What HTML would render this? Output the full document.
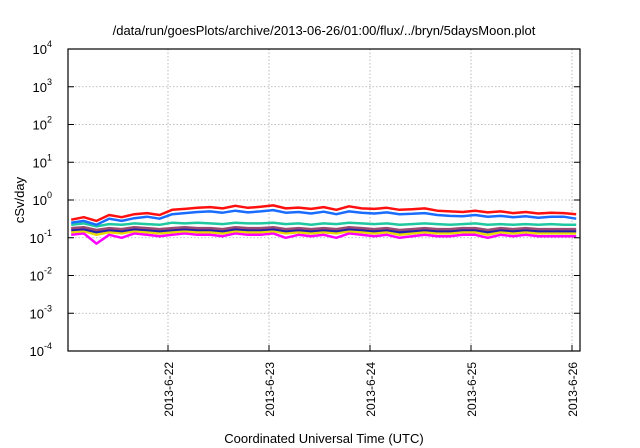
<!DOCTYPE html>
<html><head><meta charset="utf-8"><style>
html,body{margin:0;padding:0;background:#fff;}
svg{display:block;font-family:"Liberation Sans",sans-serif;}
</style></head><body>
<svg width="640" height="448" viewBox="0 0 640 448" id="chart">
<text x="324" y="35" text-anchor="middle" font-size="13" fill="#000">/data/run/goesPlots/archive/2013-06-26/01:00/flux/../bryn/5daysMoon.plot</text>
<g id="grid"></g>
<g id="series"></g>
<rect x="68" y="49" width="512" height="302" fill="none" stroke="#000" stroke-width="1.2"/>
<g id="axes"></g>
<text x="324" y="443" text-anchor="middle" font-size="13">Coordinated Universal Time (UTC)</text>
<text transform="translate(24,200) rotate(-90)" text-anchor="middle" font-size="13">cSv/day</text>
</svg>
<script>
const yExponents=[-4,-3,-2,-1,0,1,2,3,4];
const xTickLabels=["2013-6-22","2013-6-23","2013-6-24","2013-6-25","2013-6-26"];
const xTickDays=[1,2,3,4,5];
const hours=[1,4,7,10,13,16,19,22,25,28,31,34,37,40,43,46,49,52,55,58,61,64,67,70,73,76,79,82,85,88,91,94,97,100,103,106,109,112,115,118,121];
const red=[0.30,0.35,0.28,0.40,0.35,0.42,0.45,0.40,0.55,0.58,0.62,0.65,0.60,0.70,0.62,0.66,0.72,0.60,0.63,0.58,0.65,0.55,0.68,0.60,0.58,0.62,0.55,0.57,0.60,0.52,0.50,0.48,0.52,0.47,0.50,0.45,0.48,0.44,0.46,0.45,0.42];
const blue=[0.25,0.28,0.22,0.32,0.28,0.33,0.36,0.32,0.42,0.45,0.48,0.50,0.46,0.52,0.47,0.50,0.54,0.46,0.48,0.44,0.49,0.42,0.50,0.46,0.44,0.47,0.42,0.43,0.45,0.40,0.38,0.37,0.40,0.36,0.38,0.35,0.37,0.34,0.36,0.36,0.32];
const teal=[0.22,0.24,0.20,0.23,0.22,0.24,0.23,0.22,0.25,0.24,0.25,0.24,0.23,0.25,0.24,0.24,0.25,0.23,0.24,0.22,0.24,0.23,0.25,0.24,0.23,0.24,0.22,0.23,0.24,0.23,0.22,0.23,0.24,0.22,0.23,0.22,0.23,0.22,0.23,0.22,0.22];
const brown=[0.18,0.19,0.16,0.18,0.17,0.19,0.18,0.17,0.18,0.19,0.18,0.18,0.17,0.19,0.18,0.18,0.19,0.17,0.18,0.17,0.18,0.17,0.19,0.18,0.17,0.18,0.16,0.17,0.18,0.17,0.17,0.18,0.18,0.16,0.18,0.17,0.18,0.17,0.17,0.17,0.17];
const purple=[0.16,0.17,0.14,0.16,0.15,0.17,0.16,0.15,0.16,0.17,0.16,0.16,0.15,0.17,0.16,0.16,0.17,0.15,0.16,0.15,0.16,0.15,0.17,0.16,0.15,0.16,0.14,0.15,0.16,0.15,0.15,0.16,0.16,0.14,0.16,0.15,0.16,0.15,0.15,0.15,0.15];
const yellow=[0.14,0.15,0.12,0.14,0.13,0.15,0.14,0.13,0.14,0.15,0.14,0.14,0.13,0.15,0.14,0.14,0.15,0.13,0.14,0.13,0.14,0.13,0.15,0.14,0.13,0.14,0.12,0.13,0.14,0.13,0.13,0.14,0.14,0.12,0.14,0.13,0.14,0.13,0.13,0.13,0.13];
const magenta=[0.12,0.13,0.07,0.12,0.10,0.13,0.12,0.11,0.12,0.13,0.12,0.12,0.11,0.13,0.12,0.12,0.13,0.10,0.12,0.11,0.12,0.10,0.13,0.12,0.11,0.12,0.10,0.11,0.12,0.11,0.11,0.12,0.12,0.10,0.12,0.11,0.12,0.11,0.11,0.11,0.11];
const seriesList=[["magenta",magenta,"#ff00ff"],["yellow",yellow,"#e6d800"],["purple",purple,"#2020b0"],["brown",brown,"#9a4a70"],["teal",teal,"#20c8a0"],["blue",blue,"#1a6cff"],["red",red,"#ff1010"]];
const NS="http://www.w3.org/2000/svg";
const X0=67,DAYPX=101,Y0=200,DEC=37.75;
function xScale(day){return X0+day*DAYPX;}
function yScale(v){return Y0-DEC*Math.log10(v);}
const grid=document.getElementById('grid'),axes=document.getElementById('axes'),sg=document.getElementById('series');
function mk(tag,attrs,parent){const e=document.createElementNS(NS,tag);for(const k in attrs)e.setAttribute(k,attrs[k]);parent.appendChild(e);return e;}
yExponents.forEach(p=>{
  const y=yScale(Math.pow(10,p));
  if(p>-4&&p<4){const g=mk('line',{x1:68,x2:580,y1:y,y2:y,stroke:'#aaa','stroke-width':0.8,'stroke-dasharray':'1.5,2'},grid);
  
  }
  const t=mk('line',{x1:68,x2:74,y1:y,y2:y,stroke:'#000'},axes);
  
  
  const t2=mk('line',{x1:574,x2:580,y1:y,y2:y,stroke:'#000'},axes);
  
  
  const tx=mk('text',{x:52,y:y+5,'text-anchor':'end','font-size':13},axes);
  
  
  tx.textContent='10';
  const sup=mk('tspan',{dy:-7,'font-size':9},tx);sup.textContent=String(p);
});
xTickDays.forEach((d,i)=>{
  const x=xScale(d);
  const g=mk('line',{x1:x,x2:x,y1:49,y2:351,stroke:'#aaa','stroke-width':0.8,'stroke-dasharray':'1.5,2'},grid);
  
  
  const t=mk('line',{x1:x,x2:x,y1:345,y2:351,stroke:'#000'},axes);
  
  
  const tx=mk('text',{transform:`translate(${x+5},362) rotate(-90)`,'text-anchor':'end','font-size':12},axes);
  
  
  tx.textContent=xTickLabels[i];
});
seriesList.forEach(([name,vals,col])=>{
  const pts=vals.map((v,i)=>xScale(hours[i]/24).toFixed(1)+','+yScale(v).toFixed(1)).join(' ');
  const pl=mk('polyline',{points:pts,fill:'none',stroke:col,'stroke-width':2.5,'stroke-linejoin':'round'},sg);
  
  
});
</script>
</body></html>
